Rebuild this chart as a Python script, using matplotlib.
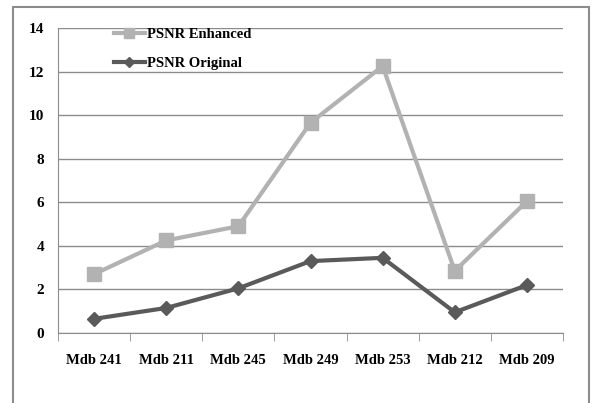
import matplotlib.pyplot as plt
import numpy as np
from matplotlib.patches import Rectangle

categories = ["Mdb 241", "Mdb 211", "Mdb 245", "Mdb 249", "Mdb 253", "Mdb 212", "Mdb 209"]
psnr_enhanced = [2.7, 4.25, 4.9, 9.65, 12.25, 2.85, 6.05]
psnr_original = [0.65, 1.15, 2.05, 3.3, 3.45, 0.95, 2.2]

plt.rcParams["font.family"] = ["Liberation Serif", "DejaVu Serif"]
plt.rcParams["font.weight"] = "bold"

W, H = 595, 403
fig = plt.figure(figsize=(W / 100, H / 100), dpi=100)
fig.patches.append(Rectangle((13 / W, -0.05), 576 / W, 1.05 - 7 / H, transform=fig.transFigure,
                             fill=False, edgecolor="#8c8c8c", linewidth=1.5))

ax = fig.add_axes([58 / W, 1 - 333 / H, 505 / W, 305 / H])
x = np.arange(len(categories))
ax.plot(x, psnr_enhanced, color="#b2b2b2", linewidth=3, marker="s", markersize=10,
        label="PSNR Enhanced")
ax.plot(x, psnr_original, color="#5a5a5a", linewidth=3, marker="D", markersize=7,
        label="PSNR Original")

ax.set_xlim(-0.5, len(categories) - 0.5)
ax.set_ylim(0, 14)
ax.set_yticks(np.arange(0, 15, 2))
ax.yaxis.grid(True, color="#8c8c8c", linewidth=1)
ax.set_axisbelow(True)
ax.set_xticks(x)
ax.set_xticklabels(categories, fontsize=10.5, fontweight="bold")
ax.tick_params(axis="x", length=0, pad=15)
ax.set_xticks(np.arange(-0.5, len(categories)), minor=True)
ax.tick_params(axis="x", which="minor", length=6, color="#8c8c8c")
ax.tick_params(axis="y", length=0, pad=10, labelsize=11)
for s in ["top", "right"]:
    ax.spines[s].set_visible(False)
ax.spines["left"].set_color("#8c8c8c")
ax.spines["bottom"].set_color("#8c8c8c")

ax.legend(loc="upper left", bbox_to_anchor=(0.085, 1.045), frameon=False, fontsize=10.5,
          handlelength=2.1, labelspacing=1.1, handletextpad=0.15, markerscale=0.7)

fig.savefig("out.png", dpi=100)
